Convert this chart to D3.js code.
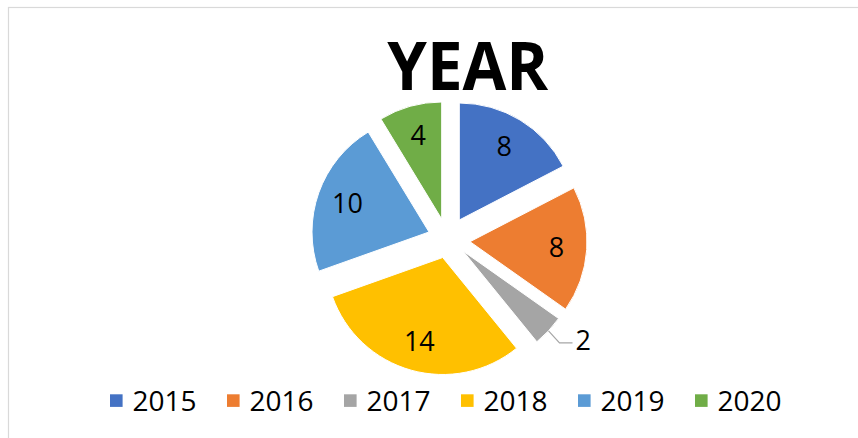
<!DOCTYPE html>
<html>
<head>
<meta charset="utf-8">
<script src="https://cdn.jsdelivr.net/npm/d3@7"></script>
<style>
  html, body { margin: 0; padding: 0; background: #fff; }
  svg { display: block; }
</style>
</head>
<body>
<svg id="chart" width="858" height="438"></svg>
<script>
// ---- data ----
const categories = ["2015", "2016", "2017", "2018", "2019", "2020"];
const values = [8, 8, 2, 14, 10, 4];
const title = "YEAR";

// ---- styles ----
const colors = ["#4472C4", "#ED7D31", "#A5A5A5", "#FFC000", "#5B9BD5", "#70AD47"];
// per-slice explosion offsets (px) as seen in the reference
const explodeOffsets = [[11.3, -18], [22, 3.7], [15, 13], [-5.3, 19.5], [-19, -6], [-6.3, -19]];
const outsideLabel = [false, false, true, false, false, false];
const fontFamily = "'Open Sans', 'Liberation Sans', sans-serif";

const svg = d3.select("#chart");

// chart border
svg.append("rect")
  .attr("x", 8.5).attr("y", 7.5)
  .attr("width", 900).attr("height", 500)
  .attr("fill", "#fff")
  .attr("stroke", "#d9d9d9").attr("stroke-width", 1.2);

// title
svg.append("text")
  .attr("x", 467.8).attr("y", 90)
  .attr("text-anchor", "middle")
  .attr("font-family", fontFamily)
  .attr("font-weight", 700)
  .attr("font-size", 66)
  .attr("textLength", 161)
  .attr("lengthAdjust", "spacingAndGlyphs")
  .attr("fill", "#000")
  .text(title);

// pie
const cx = 448, cy = 238, r = 117;
const pie = d3.pie().sort(null).value(d => d.value);
const data = categories.map((c, i) => ({ cat: c, value: values[i], i }));
const arcs = pie(data);
const arc = d3.arc().innerRadius(0).outerRadius(r);
const labelArc = d3.arc().innerRadius(r * 0.74).outerRadius(r * 0.74);

const g = svg.append("g").attr("transform", `translate(${cx},${cy})`);

const slices = g.selectAll("g.slice").data(arcs).enter().append("g")
  .attr("class", "slice")
  .attr("transform", d => `translate(${explodeOffsets[d.data.i][0]},${explodeOffsets[d.data.i][1]})`);

slices.append("path")
  .attr("d", arc)
  .attr("fill", d => colors[d.data.i])
  .attr("stroke", "#fff")
  .attr("stroke-width", 1);

// inside labels
slices.filter(d => !outsideLabel[d.data.i]).append("text")
  .attr("transform", d => `translate(${labelArc.centroid(d)})`)
  .attr("text-anchor", "middle")
  .attr("dy", "0.36em")
  .attr("font-family", fontFamily)
  .attr("font-size", 27)
  .attr("fill", "#000")
  .text(d => d.data.value);

// outside labels with leader line
slices.filter(d => outsideLabel[d.data.i]).each(function(d) {
  const sel = d3.select(this);
  const mid = (d.startAngle + d.endAngle) / 2;
  const p0 = [Math.sin(mid) * r, -Math.cos(mid) * r];
  const p1 = [p0[0] + 11, p0[1] + 12];
  const p2 = [p1[0] + 13, p1[1]];
  sel.append("polyline")
    .attr("points", [p0, p1, p2].map(p => p.join(",")).join(" "))
    .attr("fill", "none")
    .attr("stroke", "#A6A6A6")
    .attr("stroke-width", 1.2);
  sel.append("text")
    .attr("x", p2[0] + 3).attr("y", p2[1] - 3)
    .attr("dy", "0.36em")
    .attr("font-family", fontFamily)
    .attr("font-size", 27)
    .attr("fill", "#000")
    .text(d.data.value);
});

// legend
const legendX0 = 110, legendStep = 117, legendY = 394.3;
const legend = svg.append("g");
const items = legend.selectAll("g").data(categories).enter().append("g")
  .attr("transform", (d, i) => `translate(${legendX0 + i * legendStep},${legendY})`);
items.append("rect")
  .attr("width", 12.6).attr("height", 12.6)
  .attr("fill", (d, i) => colors[i]);
items.append("text")
  .attr("x", 22.5).attr("y", 16.9)
  .attr("font-family", fontFamily)
  .attr("font-size", 28)
  .attr("fill", "#000")
  .text(d => d);
</script>
</body>
</html>
